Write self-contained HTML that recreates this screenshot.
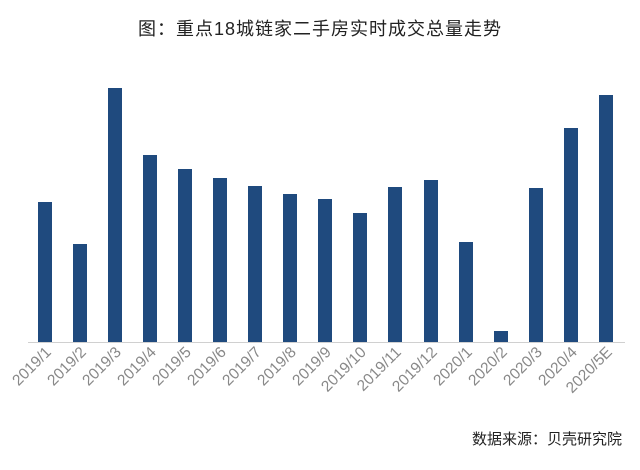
<!DOCTYPE html><html><head><meta charset="utf-8"><style>body{margin:0;background:#fff}</style></head><body>
<svg width="640" height="465" xmlns="http://www.w3.org/2000/svg" font-family="Liberation Sans, Noto Sans CJK SC, sans-serif">
<text x="320" y="35" text-anchor="middle" font-size="18" fill="#222" letter-spacing="1">图：重点18城链家二手房实时成交总量走势</text>
<line x1="28" y1="342.5" x2="625" y2="342.5" stroke="#d0d0d0" stroke-width="1"/>
<g fill="#1f4a7e">
<rect x="38" y="202" width="14" height="140"/>
<rect x="73" y="244" width="14" height="98"/>
<rect x="108" y="88" width="14" height="254"/>
<rect x="143" y="155" width="14" height="187"/>
<rect x="178" y="169" width="14" height="173"/>
<rect x="213" y="178" width="14" height="164"/>
<rect x="248" y="186" width="14" height="156"/>
<rect x="283" y="194" width="14" height="148"/>
<rect x="318" y="199" width="14" height="143"/>
<rect x="353" y="213" width="14" height="129"/>
<rect x="388" y="187" width="14" height="155"/>
<rect x="424" y="180" width="14" height="162"/>
<rect x="459" y="242" width="14" height="100"/>
<rect x="494" y="331" width="14" height="11"/>
<rect x="529" y="188" width="14" height="154"/>
<rect x="564" y="128" width="14" height="214"/>
<rect x="599" y="95" width="14" height="247"/>
</g>
<g font-size="15.5" fill="#888" text-anchor="end">
<text transform="translate(52,353) rotate(-45)">2019/1</text>
<text transform="translate(87,353) rotate(-45)">2019/2</text>
<text transform="translate(122,353) rotate(-45)">2019/3</text>
<text transform="translate(157,353) rotate(-45)">2019/4</text>
<text transform="translate(192,353) rotate(-45)">2019/5</text>
<text transform="translate(227,353) rotate(-45)">2019/6</text>
<text transform="translate(262,353) rotate(-45)">2019/7</text>
<text transform="translate(297,353) rotate(-45)">2019/8</text>
<text transform="translate(332,353) rotate(-45)">2019/9</text>
<text transform="translate(367,353) rotate(-45)">2019/10</text>
<text transform="translate(402,353) rotate(-45)">2019/11</text>
<text transform="translate(438,353) rotate(-45)">2019/12</text>
<text transform="translate(473,353) rotate(-45)">2020/1</text>
<text transform="translate(508,353) rotate(-45)">2020/2</text>
<text transform="translate(543,353) rotate(-45)">2020/3</text>
<text transform="translate(578,353) rotate(-45)">2020/4</text>
<text transform="translate(613,353) rotate(-45)">2020/5E</text>
</g>
<text x="622" y="444" text-anchor="end" font-size="15" fill="#222">数据来源：贝壳研究院</text>
</svg>
</body></html>
